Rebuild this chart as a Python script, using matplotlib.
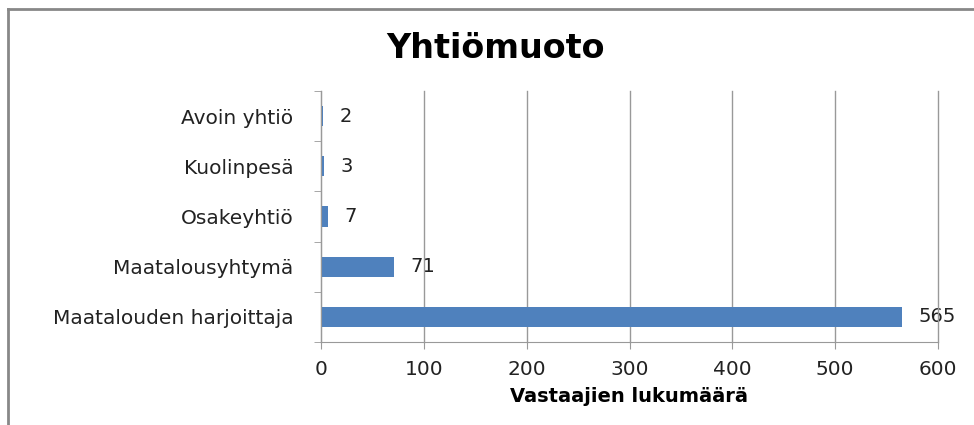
import matplotlib.pyplot as plt
from matplotlib.lines import Line2D

categories = ['Maatalouden harjoittaja', 'Maatalousyhtymä', 'Osakeyhtiö', 'Kuolinpesä', 'Avoin yhtiö']
values = [565, 71, 7, 3, 2]
xticks = [0, 100, 200, 300, 400, 500, 600]

plt.rcParams['font.family'] = ['DejaVu Sans']

fig = plt.figure(figsize=(9.74, 4.25), dpi=100)
# outer chart frame (only top and left edges visible)
fig.add_artist(Line2D([8 / 974, 8 / 974], [0, 1 - 9 / 425], transform=fig.transFigure, color='#888888', lw=2))
fig.add_artist(Line2D([8 / 974, 1], [1 - 9 / 425, 1 - 9 / 425], transform=fig.transFigure, color='#888888', lw=2))

ax = fig.add_axes([321 / 974, 83 / 425, 617 / 974, 251 / 425])
pos = list(range(len(categories)))
ax.barh(pos, values, height=0.4, color='#4f81bd', zorder=2)
for p, v in zip(pos, values):
    ax.text(v + 16, p, str(v), va='center', ha='left', fontsize=14, color='#222222', zorder=1)

ax.set_xlim(0, 600)
ax.set_ylim(-0.5, len(categories) - 0.5)
ax.set_xticks(xticks)
ax.set_xticklabels([str(t) for t in xticks], fontsize=14.5, color='#222222')
ax.set_yticks(pos)
ax.set_yticklabels(categories, fontsize=14.5, color='#222222')
ax.set_yticks([i - 0.5 for i in range(len(categories) + 1)], minor=True)
ax.tick_params(axis='y', which='major', length=0, pad=20)
ax.tick_params(axis='y', which='minor', length=5, color='#999999', direction='out')
ax.tick_params(axis='x', length=5, color='#999999', direction='out', pad=8)
ax.grid(axis='x', color='#999999', lw=1, zorder=3)
for gl in ax.get_xgridlines():
    gl.set_clip_on(False)
for s in ['top', 'right']:
    ax.spines[s].set_visible(False)
for s in ['left', 'bottom']:
    ax.spines[s].set_color('#999999')

ax.set_xlabel('Vastaajien lukumäärä', fontsize=14, fontweight='bold', labelpad=6)
fig.text(496 / 974, 1 - 48 / 425, 'Yhtiömuoto', ha='center', va='center', fontsize=24, fontweight='bold')

fig.savefig('out.png', dpi=100)
